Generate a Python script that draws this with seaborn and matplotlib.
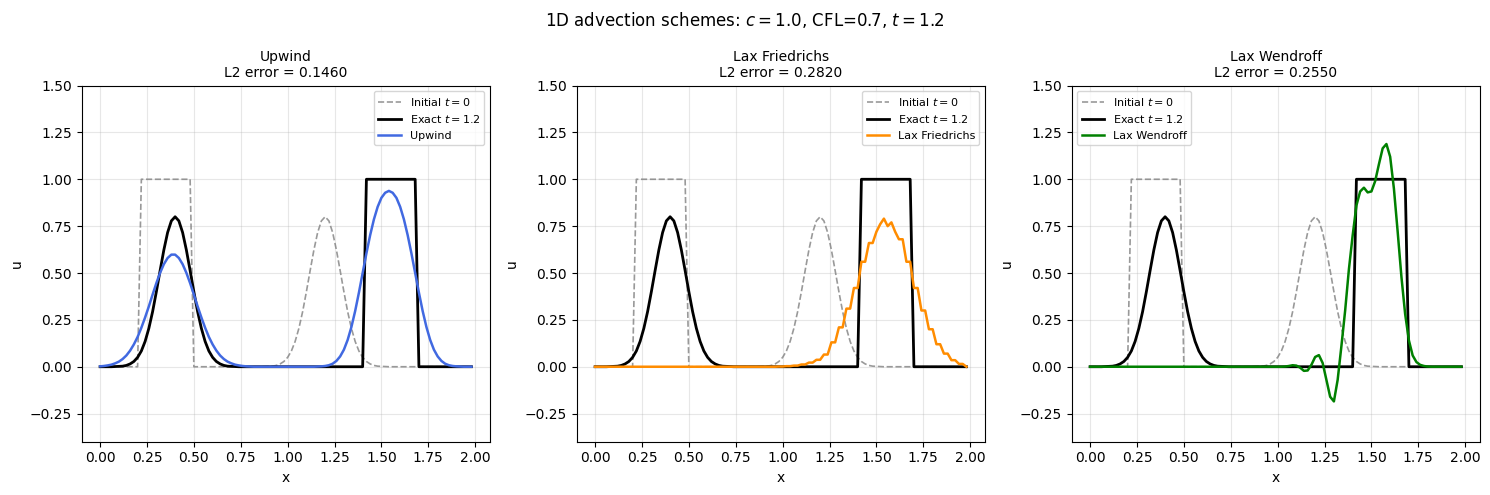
import numpy as np
import matplotlib
matplotlib.use("Agg")
import matplotlib.pyplot as plt
import seaborn as sns

# grid: 100 cells on [0, 2)
x = np.linspace(0, 1.98, 100)

u_init = [
    0, 0, 0, 0, 0, 0, 0, 0, 0, 0,
    0, 1, 1, 1, 1, 1, 1, 1, 1, 1,
    1, 1, 1, 1, 1, 0, 0, 0, 0, 0,
    0, 0, 0, 0, 0, 0, 0, 0, 0, 0,
    0, 0, 0, 0, 0.001, 0.002, 0.003, 0.007, 0.015, 0.028,
    0.050, 0.084, 0.135, 0.205, 0.294, 0.400, 0.513, 0.623, 0.716, 0.778,
    0.800, 0.778, 0.716, 0.623, 0.513, 0.400, 0.294, 0.205, 0.135, 0.084,
    0.050, 0.028, 0.015, 0.007, 0.003, 0.002, 0.001, 0, 0, 0,
    0, 0, 0, 0, 0, 0, 0, 0, 0, 0,
    0, 0, 0, 0, 0, 0, 0, 0, 0, 0,
]

u_exact = [
    0, 0, 0, 0, 0.001, 0.002, 0.003, 0.007, 0.015, 0.028,
    0.050, 0.084, 0.135, 0.205, 0.294, 0.400, 0.513, 0.623, 0.716, 0.778,
    0.800, 0.778, 0.716, 0.623, 0.513, 0.400, 0.294, 0.205, 0.135, 0.084,
    0.050, 0.028, 0.015, 0.007, 0.003, 0.002, 0.001, 0, 0, 0,
    0, 0, 0, 0, 0, 0, 0, 0, 0, 0,
    0, 0, 0, 0, 0, 0, 0, 0, 0, 0,
    0, 0, 0, 0, 0, 0, 0, 0, 0, 0,
    0, 1, 1, 1, 1, 1, 1, 1, 1, 1,
    1, 1, 1, 1, 1, 0, 0, 0, 0, 0,
    0, 0, 0, 0, 0, 0, 0, 0, 0, 0,
]

u_upwind = [
    0.002, 0.004, 0.007, 0.011, 0.018, 0.027, 0.041, 0.060, 0.086, 0.119,
    0.159, 0.208, 0.263, 0.322, 0.385, 0.446, 0.501, 0.547, 0.580, 0.598,
    0.598, 0.580, 0.547, 0.501, 0.446, 0.385, 0.322, 0.263, 0.208, 0.159,
    0.119, 0.086, 0.060, 0.041, 0.027, 0.018, 0.011, 0.007, 0.004, 0.002,
    0.001, 0, 0, 0, 0, 0, 0, 0, 0, 0,
    0, 0, 0, 0, 0, 0, 0, 0, 0.001, 0.002,
    0.004, 0.008, 0.016, 0.031, 0.055, 0.091, 0.143, 0.212, 0.297, 0.395,
    0.500, 0.605, 0.702, 0.786, 0.853, 0.901, 0.928, 0.938, 0.928, 0.901,
    0.853, 0.786, 0.702, 0.605, 0.500, 0.395, 0.297, 0.212, 0.143, 0.091,
    0.055, 0.031, 0.016, 0.008, 0.004, 0.002, 0.001, 0, 0, 0,
]

u_lf = [
    0, 0, 0, 0, 0, 0, 0, 0, 0, 0,
    0, 0, 0, 0, 0, 0, 0, 0, 0, 0,
    0, 0, 0, 0, 0, 0, 0, 0, 0, 0,
    0, 0, 0, 0, 0, 0, 0, 0, 0, 0,
    0, 0, 0, 0, 0, 0, 0, 0, 0, 0.001,
    0.001, 0.003, 0.003, 0.006, 0.006, 0.012, 0.012, 0.022, 0.022, 0.037,
    0.037, 0.065, 0.065, 0.13, 0.13, 0.21, 0.21, 0.31, 0.31, 0.42,
    0.42, 0.56, 0.56, 0.66, 0.66, 0.72, 0.76, 0.79, 0.75, 0.77,
    0.72, 0.68, 0.68, 0.56, 0.56, 0.42, 0.42, 0.30, 0.30, 0.20,
    0.20, 0.12, 0.12, 0.07, 0.07, 0.035, 0.035, 0.015, 0.015, 0,
]

u_lw = [
    0, 0, 0, 0, 0, 0, 0, 0, 0, 0,
    0, 0, 0, 0, 0, 0, 0, 0, 0, 0,
    0, 0, 0, 0, 0, 0, 0, 0, 0, 0,
    0, 0, 0, 0, 0, 0, 0, 0, 0, 0,
    0, 0, 0, 0, 0, 0, 0, 0, 0, 0,
    0, 0, 0.001, 0.004, 0.008, 0.006, -0.005, -0.022, -0.020, 0.010,
    0.052, 0.062, 0.020, -0.070, -0.160, -0.185, -0.070, 0.110, 0.300, 0.520,
    0.700, 0.860, 0.935, 0.955, 0.930, 0.935, 0.990, 1.080, 1.165, 1.188,
    1.120, 0.950, 0.720, 0.480, 0.280, 0.140, 0.060, 0.025, 0.010, 0.004,
    0.001, 0, 0, 0, 0, 0, 0, 0, 0, 0,
]

schemes = ["Upwind", "Lax Friedrichs", "Lax Wendroff"]
results = [u_upwind, u_lf, u_lw]
l2_errors = [0.1460, 0.2820, 0.2550]
colors = ["royalblue", "darkorange", "green"]
legend_locs = ["upper right", "upper right", "upper left"]

fig, axes = plt.subplots(1, 3, figsize=(15, 5), dpi=100)

for ax, name, u, err, col, loc in zip(axes, schemes, results, l2_errors, colors, legend_locs):
    sns.lineplot(x=x, y=u_init, ax=ax, color="gray", linestyle="--", lw=1.2,
                 alpha=0.8, label="Initial $t=0$")
    sns.lineplot(x=x, y=u_exact, ax=ax, color="black", lw=2, label="Exact $t=1.2$")
    sns.lineplot(x=x, y=u, ax=ax, color=col, lw=1.8, label=name)
    ax.set_title(f"{name}\nL2 error = {err:.4f}", fontsize=10)
    ax.set_xlabel("x")
    ax.set_ylabel("u")
    ax.set_ylim(-0.4, 1.5)
    ax.grid(True, alpha=0.3)
    ax.legend(loc=loc, fontsize=8)

fig.suptitle("1D advection schemes: $c=1.0$, CFL=0.7, $t=1.2$", fontsize=12)
fig.tight_layout()
fig.savefig("out.png", dpi=100, bbox_inches="tight")
